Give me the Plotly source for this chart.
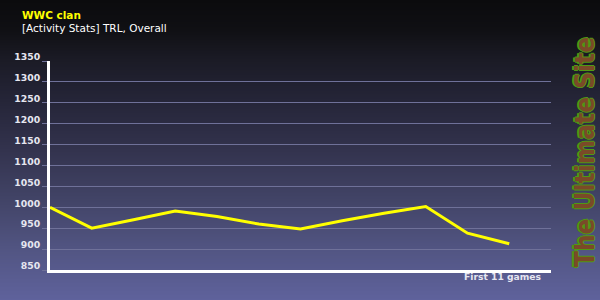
import base64, struct, zlib
import plotly.graph_objects as go

# ---- data ----
games = [0, 1, 2, 3, 4, 5, 6, 7, 8, 9, 10, 11]
rating = [1000, 950, 970, 991, 978, 960, 948, 968, 986, 1002, 938, 913]
y_ticks = [850, 900, 950, 1000, 1050, 1100, 1150, 1200, 1250, 1300, 1350]
title = "WWC clan"
subtitle = "[Activity Stats] TRL, Overall"
x_label = "First 11 games"
watermark = "The Ultimate Site"

W, H = 600, 300

# ---- background gradient as a tiny PNG ----
stops = [(0, (11, 11, 13)), (30, (16, 16, 20)), (60, (27, 27, 38)), (100, (37, 37, 56)),
         (150, (51, 51, 78)), (200, (66, 68, 103)), (250, (82, 85, 131)), (300, (95, 98, 156))]

def grad_color(y):
    for (y0, c0), (y1, c1) in zip(stops, stops[1:]):
        if y0 <= y <= y1:
            t = (y - y0) / (y1 - y0)
            return tuple(int(round(a + (b - a) * t)) for a, b in zip(c0, c1))
    return stops[-1][1]

def make_png(h):
    raw = b"".join(b"\x00" + bytes(grad_color(y)) for y in range(h))
    def chunk(tag, data):
        return struct.pack(">I", len(data)) + tag + data + struct.pack(">I", zlib.crc32(tag + data) & 0xffffffff)
    png = b"\x89PNG\r\n\x1a\n"
    png += chunk(b"IHDR", struct.pack(">IIBBBBB", 1, h, 8, 2, 0, 0, 0))
    png += chunk(b"IDAT", zlib.compress(raw))
    png += chunk(b"IEND", b"")
    return "data:image/png;base64," + base64.b64encode(png).decode()

bg = make_png(H)

grid_col = "#6f7199"
txt_col = "#e6e6f0"

fig = go.Figure()
fig.add_trace(go.Scatter(x=games, y=rating, mode="lines",
                         line=dict(color="#ffff00", width=3), hoverinfo="skip"))

left, right, top, bottom = 50, 551, 61, 270
fig.update_layout(
    width=W, height=H,
    margin=dict(l=0, r=0, t=0, b=0, pad=0, autoexpand=False),
    paper_bgcolor="#3a3a58",
    plot_bgcolor="rgba(0,0,0,0)",
    showlegend=False,
    images=[dict(source=bg, xref="paper", yref="paper", x=0, y=1, sizex=1, sizey=1,
                 sizing="stretch", layer="below", xanchor="left", yanchor="top")],
    xaxis=dict(domain=[left / W, right / W], range=[0, 12], showgrid=False, zeroline=False,
               showticklabels=False, ticks="", showline=True, linecolor="white", linewidth=3,
               automargin=False, fixedrange=True),
    yaxis=dict(domain=[(H - bottom) / H, (H - top) / H], range=[850, 1350],
               tickvals=y_ticks, showgrid=True, gridcolor=grid_col, gridwidth=1,
               zeroline=False, ticks="outside", ticklen=5, tickcolor=grid_col, tickwidth=1,
               showline=True, linecolor="white", linewidth=3,
               tickfont=dict(family="DejaVu Sans", size=9.3, color=txt_col, weight="bold"),
               ticklabelstandoff=0, ticklabelshift=-4, automargin=False, fixedrange=True),
)

ann = []
ann.append(dict(text=title, x=20 / W, y=(H - 15) / H, xref="paper", yref="paper",
                xanchor="left", yanchor="middle", showarrow=False,
                font=dict(family="DejaVu Sans", size=10.5, color="#ffff00", weight="bold")))
ann.append(dict(text=subtitle, x=20 / W, y=(H - 28) / H, xref="paper", yref="paper",
                xanchor="left", yanchor="middle", showarrow=False,
                font=dict(family="DejaVu Sans", size=10.5, color="#ffffff")))
ann.append(dict(text=x_label, x=544 / W, y=(H - 276.5) / H, xref="paper", yref="paper",
                xanchor="right", yanchor="middle", showarrow=False,
                font=dict(family="DejaVu Sans", size=9.2, color=txt_col, weight="bold")))
wm_font = dict(family="DejaVu Sans Condensed", size=26, weight="bold")
for dx, dy in [(-1, 0), (1, 0), (0, 1), (0, -1), (-2, 0)]:
    ann.append(dict(text=watermark, x=585 / W, y=(H - 152) / H, xref="paper", yref="paper",
                    xanchor="center", yanchor="middle", showarrow=False, textangle=-90,
                    xshift=dx, yshift=dy, font=dict(wm_font, color="#4f9a12")))
ann.append(dict(text=watermark, x=585 / W, y=(H - 152) / H, xref="paper", yref="paper",
                xanchor="center", yanchor="middle", showarrow=False, textangle=-90,
                font=dict(wm_font, color="#7a4a28")))
fig.update_layout(annotations=ann)

fig.write_html("out.html", config={"displayModeBar": False})
